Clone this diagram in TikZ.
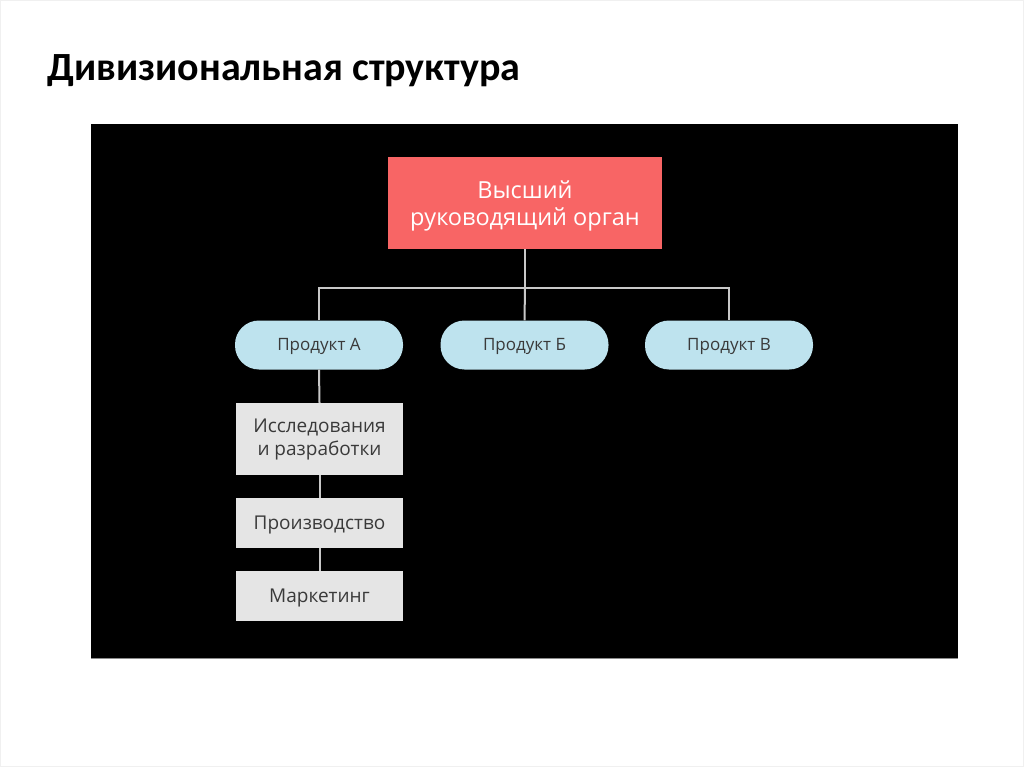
\documentclass[tikz,border=0pt]{standalone}
\usepackage{fontspec}
\setmainfont{Open Sans}
\newfontfamily\titlefont{Carlito}
\definecolor{redbox}{HTML}{F86565}
\definecolor{pill}{HTML}{BEE3EE}
\definecolor{greybox}{HTML}{E5E5E5}
\definecolor{linec}{HTML}{C8C8C8}
\definecolor{txt}{HTML}{3A3A3A}
\begin{document}
\begin{tikzpicture}[x=1pt,y=-1pt,
  topbox/.style={fill=redbox,draw=none,minimum width=274pt,minimum height=92pt,align=center,text=white,font=\fontsize{23.5}{27}\selectfont},
  prodbox/.style={fill=pill,draw=none,rounded corners=24pt,minimum width=168pt,minimum height=49pt,text=txt,font=\fontsize{17}{20}\selectfont},
  unitbox/.style={fill=greybox,draw=none,minimum width=167pt,align=center,text=txt,font=\fontsize{19}{23}\selectfont},
  conn/.style={draw=linec,line width=2pt}]
\useasboundingbox (0,0) rectangle (1024,767);
\fill[white] (0,0) rectangle (1024,767);
\draw[black!6,line width=0.8pt] (0.5,0.5) rectangle (1023.5,766.5);
\node[anchor=base west,inner sep=0pt,font=\titlefont\bfseries\fontsize{40}{44}\selectfont] (title) at (47,81) {Дивизиональная структура};
\fill[black] (91,124) rectangle (958,658);
\draw[black!45,line width=0.8pt] (91,658) -- (958,658);
\node[topbox] (top) at (525,203) {\rule{0pt}{24pt}Высший\\руководящий орган};
\node[prodbox] (pa) at (319,345) {\rule{0pt}{15pt}Продукт А};
\node[prodbox] (pb) at (524.5,345) {\rule{0pt}{15pt}Продукт Б};
\node[prodbox] (pv) at (729,345) {\rule{0pt}{15pt}Продукт В};
\node[unitbox,minimum height=72pt] (u1) at (319.5,439) {Исследования\\и разработки};
\node[unitbox,minimum height=50pt] (u2) at (319.5,523) {\rule{0pt}{17pt}Производство};
\node[unitbox,minimum height=50pt] (u3) at (319.5,596) {\rule{0pt}{17pt}Маркетинг};
\coordinate (bus) at (525,288);
\draw[conn] (top.south) -- (bus);
\draw[conn] (pa.north) |- (bus) -| (pv.north);
\draw[conn] (bus) -- (pb.north);
\draw[conn] (pa.south) -- (u1.north);
\draw[conn] (u1.south) -- (u2.north);
\draw[conn] (u2.south) -- (u3.north);
\end{tikzpicture}
\end{document}
